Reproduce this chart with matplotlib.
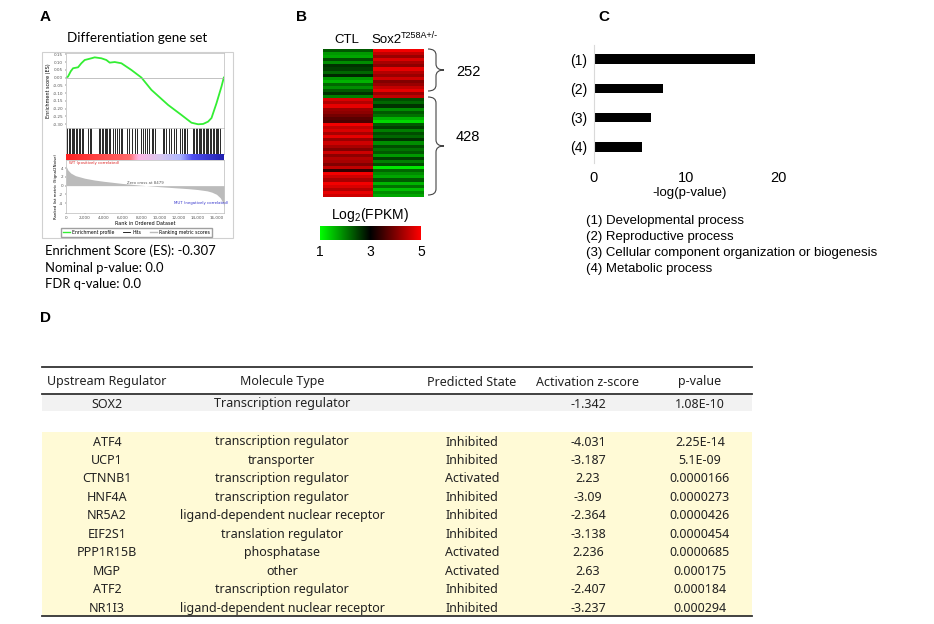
import numpy as np
import matplotlib.pyplot as plt
from matplotlib.colors import LinearSegmentedColormap
from matplotlib.lines import Line2D
from matplotlib.path import Path
from matplotlib.patches import PathPatch, Rectangle

W, H = 934, 624

# ---- A: GSEA enrichment plot
es_rank = [0, 210, 500, 750, 1280, 1630, 1990, 2700, 3050, 3760, 4290, 4650, 5180,
           5890, 6950, 8020, 9080, 10860, 12270, 13340, 14050, 14580, 15110, 15470,
           16000, 16530, 16780]
es_score = [0.0, 0.006, 0.04, 0.06, 0.066, 0.092, 0.113, 0.124, 0.13, 0.124, 0.113,
            0.096, 0.10, 0.092, 0.049, 0.0, -0.079, -0.176, -0.24, -0.29, -0.30,
            -0.298, -0.283, -0.26, -0.165, -0.058, 0.0]
hit_rank = [150, 300, 420, 600, 750, 900, 1050, 1200, 1350, 1500, 1650, 1800, 2300,
            2500, 2700, 3500, 3650, 3800, 3950, 4100, 4250, 4400, 4550, 4700, 5000,
            5200, 5400, 5600, 5800, 6000, 6500, 6750, 7000, 7300, 7600, 8000, 8200,
            8400, 8600, 8800, 9100, 9300, 9500, 10300, 10450, 10600, 11000, 11200,
            11500, 11700, 12100, 12300, 12500, 12700, 12900, 13500, 13650, 13800,
            13950, 14100, 14250, 14400, 14550, 14700, 14850, 15000, 15150, 15300,
            15450, 15600, 15750, 15900, 16050, 16200, 16350]
metric_rank = [0, 200, 500, 1000, 2000, 3000, 4000, 5000, 6000, 7000, 8479, 10000,
               11000, 12000, 13000, 14000, 15000, 15500, 16000, 16400, 16700, 16800]
metric_score = [4.5, 3.6, 2.9, 2.3, 1.7, 1.3, 1.0, 0.75, 0.5, 0.3, 0.0, -0.25, -0.4,
                -0.55, -0.7, -0.9, -1.2, -1.5, -2.0, -2.8, -4.0, -4.8]
rank_ticks = [0, 2000, 4000, 6000, 8000, 10000, 12000, 14000, 16000]
es_ticks = [0.15, 0.10, 0.05, 0.00, -0.05, -0.10, -0.15, -0.20, -0.25, -0.30]
metric_ticks = [4, 2, 0, -2, -4]
gsea_stats = ["Enrichment Score (ES): -0.307", "Nominal p-value: 0.0", "FDR q-value: 0.0"]

# ---- B: heatmap of log2(FPKM)
heat_ctl = [2.3, 1.8, 1.7, 2.4, 1.9, 2.6, 2.5, 2.2, 2.7, 1.8, 1.6, 2.2, 1.9, 2.3, 2.6, 2.0,
            4.7, 4.4, 4.8, 4.2, 4.1, 3.9, 3.7, 3.6, 4.9, 4.5, 4.7, 4.3, 4.8, 4.2, 4.6, 4.3,
            4.0, 4.6, 4.1, 4.4, 4.3, 4.0, 4.5, 3.4, 4.9, 4.6, 4.3, 4.9, 4.7, 4.4, 4.8, 4.6]
heat_sox2 = [4.9, 4.5, 4.2, 4.7, 4.3, 4.1, 4.8, 4.4, 4.2, 4.6, 4.0, 4.2, 4.5, 4.8, 4.2, 4.5,
             2.4, 2.2, 2.6, 1.9, 2.3, 2.1, 1.6, 1.3, 2.3, 2.5, 2.0, 2.4, 2.2, 2.6, 1.9, 2.4,
             2.1, 2.3, 1.8, 2.5, 2.0, 2.4, 1.2, 2.2, 1.9, 1.7, 2.3, 1.6, 2.1, 1.5, 1.9, 1.7]
group_sizes = ["252", "428"]
cbar_ticks = [1, 3, 5]

# ---- C: GO terms
go_labels = ["(1)", "(2)", "(3)", "(4)"]
go_values = [17.5, 7.5, 6.2, 5.2]
go_names = ["(1) Developmental process", "(2) Reproductive process",
            "(3) Cellular component organization or biogenesis", "(4) Metabolic process"]

# ---- D: upstream regulators
columns = ["Upstream Regulator", "Molecule Type", "Predicted State",
           "Activation z-score", "p-value"]
sox2_row = ["SOX2", "Transcription regulator", "", "-1.342", "1.08E-10"]
regulators = ["ATF4", "UCP1", "CTNNB1", "HNF4A", "NR5A2", "EIF2S1", "PPP1R15B",
              "MGP", "ATF2", "NR1I3"]
mol_types = ["transcription regulator", "transporter", "transcription regulator",
             "transcription regulator", "ligand-dependent nuclear receptor",
             "translation regulator", "phosphatase", "other",
             "transcription regulator", "ligand-dependent nuclear receptor"]
states = ["Inhibited", "Inhibited", "Activated", "Inhibited", "Inhibited", "Inhibited",
          "Activated", "Activated", "Inhibited", "Inhibited"]
zscores = ["-4.031", "-3.187", "2.23", "-3.09", "-2.364", "-3.138", "2.236", "2.63",
           "-2.407", "-3.237"]
pvalues = ["2.25E-14", "5.1E-09", "0.0000166", "0.0000273", "0.0000426", "0.0000454",
           "0.0000685", "0.000175", "0.000184", "0.000294"]


def rect(x0, y0, x1, y1):
    return [x0 / W, 1 - y1 / H, (x1 - x0) / W, (y1 - y0) / H]


def brace(ax, x, y0, y1, w):
    ym = (y0 + y1) / 2
    r = 6
    verts = [(x, y0), (x + w / 2, y0), (x + w / 2, y0 + r), (x + w / 2, ym - r),
             (x + w / 2, ym), (x + w, ym), (x + w / 2, ym), (x + w / 2, ym + r),
             (x + w / 2, y1 - r), (x + w / 2, y1), (x, y1)]
    codes = [Path.MOVETO, Path.CURVE3, Path.CURVE3, Path.LINETO, Path.CURVE3, Path.CURVE3,
             Path.CURVE3, Path.CURVE3, Path.LINETO, Path.CURVE3, Path.CURVE3]
    ax.add_patch(PathPatch(Path(verts, codes), fill=False, ec='#444444', lw=0.8))


fig = plt.figure(figsize=(9.34, 6.24), dpi=100)
ov = fig.add_axes([0, 0, 1, 1])
ov.set_xlim(0, W)
ov.set_ylim(H, 0)
ov.axis('off')

arial = 'Liberation Sans'
for lab, x, y in [("A", 40, 17), ("B", 296, 17), ("C", 598, 17), ("D", 40, 318)]:
    ov.text(x, y, lab, fontsize=11, fontweight='bold', family=arial, va='center')

# ---------------- A
ov.text(137, 38, "Differentiation gene set", fontsize=9.6, family='Lato',
        ha='center', va='center')
ov.add_patch(Rectangle((42, 52), 191, 186, fill=False, ec='#d0d0d0', lw=0.8))
for i, s in enumerate(gsea_stats):
    ov.text(45, 251 + i * 16.5, s, fontsize=9.4, family='Lato', va='center')

small = dict(fontsize=3, color='#555555')
ax_es = fig.add_axes(rect(66, 53, 224, 128))
ax_es.plot(es_rank, es_score, color='#33ee33', lw=1.3)
ax_es.axhline(0, color='#aaaaaa', lw=0.5)
ax_es.set_xlim(0, 16800)
ax_es.set_ylim(-0.324, 0.158)
ax_es.set_xticks([])
ax_es.set_yticks(es_ticks)
ax_es.set_yticklabels(['%.2f' % t for t in es_ticks], **small)
ax_es.tick_params(length=1, width=0.3, pad=1)
ax_es.set_ylabel('Enrichment score (ES)', fontsize=3.5, labelpad=1)

ax_hit = fig.add_axes(rect(66, 128, 224, 154))
ax_hit.vlines(hit_rank, 0, 1, color='black', lw=0.7, alpha=0.85)
ax_hit.set_xlim(0, 16800)
ax_hit.set_ylim(0, 1)
ax_hit.set_xticks([])
ax_hit.set_yticks([])

strip_cmap = LinearSegmentedColormap.from_list('strip', [
    (0, '#ff2020'), (0.4, '#ff6a6a'), (0.46, '#ffb6e6'), (0.6, '#d8c8f0'),
    (0.72, '#b0b8ff'), (0.8, '#5050f0'), (1, '#2020b0')])
ax_strip = fig.add_axes(rect(66, 154, 224, 160))
ax_strip.imshow(np.linspace(0, 1, 256)[None, :], cmap=strip_cmap, aspect='auto',
                extent=[0, 16800, 0, 1])
ax_strip.axis('off')

ax_m = fig.add_axes(rect(66, 160, 224, 213))
ax_m.fill_between(metric_rank, metric_score, 0, color='#bbbbbb', lw=0)
ax_m.set_xlim(0, 16800)
ax_m.set_ylim(-6.3, 5.9)
ax_m.set_yticks(metric_ticks)
ax_m.set_yticklabels([str(t) for t in metric_ticks], **small)
ax_m.set_xticks(rank_ticks)
ax_m.set_xticklabels(['{:,}'.format(t) for t in rank_ticks], **small)
ax_m.tick_params(length=1, width=0.3, pad=1)
ax_m.set_xlabel('Rank in Ordered Dataset', fontsize=3.5, labelpad=1)
ax_m.set_ylabel('Ranked list metric (Signal2Noise)', fontsize=2.8, labelpad=1)
ax_m.text(300, 5.0, 'WT (positively correlated)', fontsize=2.8, color='#dd2222')
ax_m.text(8479, 0.4, 'Zero cross at 8479', fontsize=2.8, color='#555555', ha='center')
ax_m.text(11500, -4.2, 'MUT (negatively correlated)', fontsize=2.8, color='#3333cc')
for a in (ax_es, ax_hit, ax_m):
    for sp in a.spines.values():
        sp.set_color('#bbbbbb')
        sp.set_linewidth(0.5)

fig.legend(handles=[Line2D([], [], color='#33ee33', lw=1),
                    Line2D([], [], color='black', lw=0.6),
                    Line2D([], [], color='#bbbbbb', lw=1)],
           labels=['Enrichment profile', 'Hits', 'Ranking metric scores'],
           ncol=3, fontsize=3.3, loc='center', bbox_to_anchor=(136.5 / W, 1 - 232.5 / H),
           frameon=True, fancybox=False, edgecolor='#888888', handlelength=1.6,
           columnspacing=1.8, borderpad=0.4, handletextpad=0.5)

# ---------------- B
heat_cmap = LinearSegmentedColormap.from_list('gbr', ['#00ff00', '#000000', '#ff0000'])
ax_h = fig.add_axes(rect(323, 49, 424, 197))
ax_h.imshow(np.column_stack([heat_ctl, heat_sox2]), cmap=heat_cmap, vmin=1, vmax=5,
            aspect='auto', interpolation='nearest')
ax_h.axis('off')
ov.text(347, 40, 'CTL', fontsize=9.5, family=arial, ha='center', va='center')
ov.text(371, 40, 'Sox2', fontsize=9.5, family=arial, ha='left', va='center')
ov.text(401, 36, 'T258A+/-', fontsize=6.5, family=arial, ha='left', va='center')
brace(ov, 428, 49, 91, 16)
brace(ov, 428, 97, 195, 16)
ov.text(468, 72, group_sizes[0], fontsize=10.5, family=arial, ha='center', va='center')
ov.text(468, 137, group_sizes[1], fontsize=10.5, family=arial, ha='center', va='center')

ax_cb = fig.add_axes(rect(320, 226, 421, 240))
ax_cb.imshow(np.linspace(1, 5, 256)[None, :], cmap=heat_cmap, aspect='auto',
             extent=[1, 5, 0, 1])
ax_cb.axis('off')
ov.text(370, 215, 'Log$_{\\mathregular{2}}$(FPKM)', fontsize=10, family=arial,
        ha='center', va='center')
for t in cbar_ticks:
    ov.text(320 + (t - 1) / 4 * 101, 252, str(t), fontsize=10, family=arial,
            ha='center', va='center')

# ---------------- C
ax_c = fig.add_axes(rect(594, 45, 778, 163))
ax_c.barh(range(len(go_values)), go_values, height=0.33, color='black')
ax_c.set_xlim(0, 20)
ax_c.set_ylim(3.55, -0.48)
ax_c.set_yticks(range(len(go_labels)))
ax_c.set_yticklabels(go_labels, fontsize=10, family=arial)
ax_c.set_xticks([0, 10, 20])
ax_c.set_xticklabels(['0', '10', '20'], fontsize=10.5, family=arial)
ax_c.tick_params(length=0, pad=5)
ax_c.tick_params(axis='x', pad=6)
for k, sp in ax_c.spines.items():
    sp.set_visible(k == 'left')
ax_c.spines['left'].set_color('#d9d9d9')
ov.text(690, 193, '-log(p-value)', fontsize=9.5, family=arial, ha='center', va='center')
for i, s in enumerate(go_names):
    ov.text(586, 221 + i * 16, s, fontsize=9.5, family=arial, va='center')

# ---------------- D
col_x = [107, 282, 472, 588, 700]
tfont = dict(fontsize=9, family='Noto Sans', ha='center', va='center', color='#222222')
ov.add_patch(Rectangle((42, 395), 710, 16, color='#f2f2f2', lw=0))
ov.add_patch(Rectangle((42, 432), 710, 184, color='#fffad6', lw=0))
for y in (367, 394, 616):
    ov.plot([42, 752], [y, y], color='#333333', lw=1.3)
for x, c in zip(col_x, columns):
    ov.text(x, 382, c, **tfont)
for x, c in zip(col_x, sox2_row):
    ov.text(x, 404, c, **tfont)
for i, row in enumerate(zip(regulators, mol_types, states, zscores, pvalues)):
    for x, c in zip(col_x, row):
        ov.text(x, 442 + i * 18.45, c, **tfont)

fig.savefig('out.png', dpi=100)
